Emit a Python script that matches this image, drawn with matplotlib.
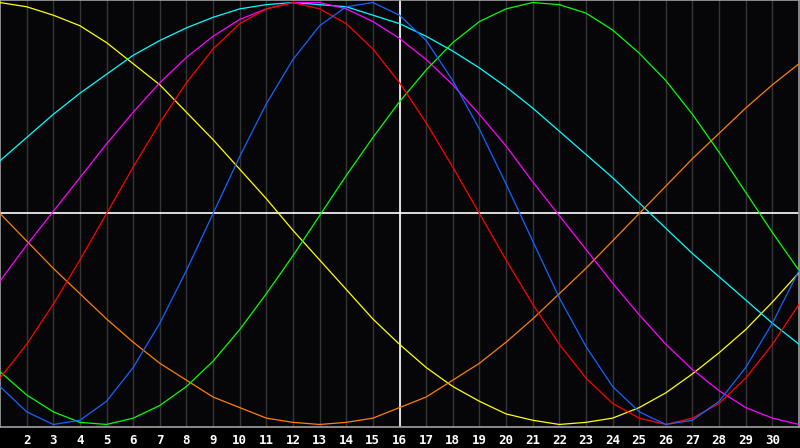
import matplotlib
matplotlib.use("Agg")
import matplotlib.pyplot as plt

# jours du mois affichés (1 .. 31)
days = list(range(1, 32))

# valeurs, une par jour (de -1 à +1)
physical = [-0.82, -0.94, -1.00, -0.98, -0.89, -0.73, -0.52, -0.27, -0.00, 0.27,
            0.52, 0.73, 0.89, 0.98, 1.00, 0.94, 0.82, 0.63, 0.40, 0.14,
            -0.13, -0.40, -0.63, -0.82, -0.94, -1.00, -0.98, -0.89, -0.73, -0.52, -0.27]
emotional = [-0.78, -0.62, -0.43, -0.22, 0.00, 0.22, 0.43, 0.62, 0.78, 0.90,
             0.97, 1.00, 0.97, 0.90, 0.78, 0.62, 0.43, 0.22, 0.00, -0.22,
             -0.43, -0.62, -0.78, -0.90, -0.97, -1.00, -0.97, -0.90, -0.78, -0.62, -0.43]
intellectual = [-0.75, -0.86, -0.94, -0.99, -1.00, -0.97, -0.91, -0.82, -0.70, -0.55,
                -0.38, -0.20, -0.01, 0.18, 0.36, 0.53, 0.68, 0.81, 0.91, 0.97,
                1.00, 0.99, 0.95, 0.87, 0.76, 0.63, 0.47, 0.29, 0.10, -0.09, -0.27]
intuitive = [-0.32, -0.15, 0.01, 0.17, 0.33, 0.48, 0.62, 0.74, 0.84, 0.92,
             0.97, 1.00, 1.00, 0.97, 0.91, 0.83, 0.73, 0.61, 0.47, 0.32,
             0.15, -0.01, -0.17, -0.33, -0.48, -0.62, -0.74, -0.84, -0.92, -0.97, -1.00]
aesthetic = [1.00, 0.98, 0.94, 0.89, 0.81, 0.71, 0.61, 0.48, 0.35, 0.21,
             0.07, -0.08, -0.22, -0.36, -0.50, -0.62, -0.73, -0.82, -0.89, -0.95,
             -0.98, -1.00, -0.99, -0.97, -0.92, -0.85, -0.76, -0.66, -0.55, -0.42, -0.28]
awareness = [0.00, -0.13, -0.26, -0.38, -0.50, -0.61, -0.71, -0.79, -0.87, -0.92,
             -0.97, -0.99, -1.00, -0.99, -0.97, -0.92, -0.87, -0.79, -0.71, -0.61,
             -0.50, -0.38, -0.26, -0.13, 0.00, 0.13, 0.26, 0.38, 0.50, 0.61, 0.71]
spiritual = [0.25, 0.36, 0.47, 0.57, 0.66, 0.75, 0.82, 0.88, 0.93, 0.97,
             0.99, 1.00, 0.99, 0.98, 0.94, 0.90, 0.84, 0.77, 0.69, 0.60,
             0.50, 0.39, 0.28, 0.17, 0.05, -0.07, -0.19, -0.30, -0.41, -0.52, -0.62]

today = 16
tick_days = list(range(2, 31))

series = [
    (aesthetic, "#ffff00"),
    (spiritual, "#00ffff"),
    (awareness, "#ff8000"),
    (intuitive, "#ff00ff"),
    (intellectual, "#00ff00"),
    (emotional, "#ff0000"),
    (physical, "#1464ff"),
]

fig = plt.figure(figsize=(8, 4.48), dpi=100, facecolor="black")
ax = fig.add_axes([0, 21 / 448, 799 / 800, 427 / 448])
ax.set_facecolor("#060609")

# grille verticale (un trait par jour)
for d in tick_days:
    ax.axvline(d, color="#353535", lw=1.0, zorder=1)
ax.axvline(today, color="white", lw=1.2, zorder=2)
ax.axhline(0, color="white", lw=1.2, zorder=2)

for values, color in series:
    ax.plot(days, values, color=color, lw=0.9, zorder=3)

ax.set_xlim(1, 31)
ax.set_ylim(-1.012, 1.012)
ax.set_yticks([])
ax.set_xticks(tick_days)
ax.set_xticklabels([str(d) for d in tick_days], family="DejaVu Sans Mono",
                   fontweight="bold", fontsize=9, color="white")
ax.tick_params(axis="x", length=0, pad=5)
for s in ax.spines.values():
    s.set_color("#a0a0a0")
    s.set_linewidth(1.2)

fig.savefig("out.png", dpi=100, facecolor="black")
